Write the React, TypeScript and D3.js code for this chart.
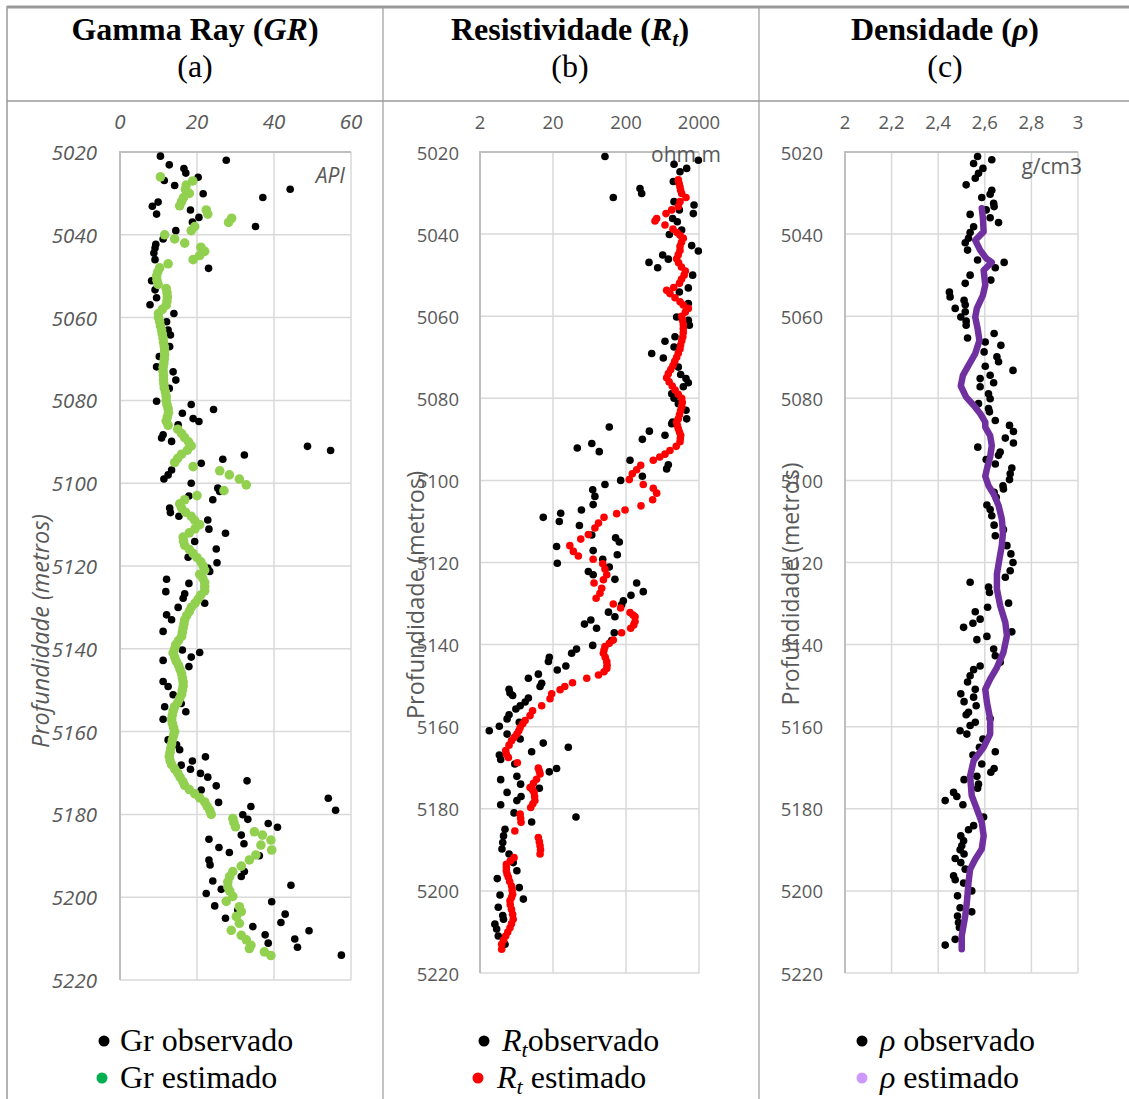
import React from 'react';
import * as d3 from 'd3';

// ---------- tick values ----------
const depthTicks = [5020, 5040, 5060, 5080, 5100, 5120, 5140, 5160, 5180, 5200, 5220];
const grTicks = [0, 20, 40, 60];
const rtTicks = [2, 20, 200, 2000];
const rhoTicks = [2, 2.2, 2.4, 2.6, 2.8, 3];

// ---------- Gamma Ray (API) [depth, value] ----------
const grObs: [number, number][] = [
  [5021.0,10.5],[5022.0,27.6],[5023.1,12.8],[5024.0,16.6],[5025.1,17.1],[5026.1,20.3],[5026.9,11.5],[5028.1,14.2],[5029.0,44.2],[5030.1,21.6],
  [5031.0,37.1],[5032.1,9.9],[5033.1,8.4],[5034.0,18.3],[5035.0,9.5],[5035.8,20.5],[5036.9,18.8],[5038.0,35.2],[5039.0,14.5],[5041.0,11.2],
  [5042.3,9.3],[5043.2,9.1],[5044.4,8.8],[5046.0,9.1],[5048.1,23.0],[5051.1,8.2],[5053.3,9.1],[5055.2,9.5],[5056.9,7.8],[5059.0,14.0],
  [5061.0,12.1],[5063.0,12.5],[5064.2,13.1],[5067.0,12.9],[5069.4,10.2],[5071.9,9.5],[5073.1,13.8],[5075.1,14.5],[5077.1,12.8],[5080.2,9.5],
  [5081.0,18.5],[5082.2,24.3],[5083.1,16.2],[5084.4,19.0],[5085.1,20.5],[5085.9,15.1],[5088.3,11.2],[5089.1,10.8],[5089.9,13.4],[5091.1,48.7],
  [5092.1,54.7],[5093.2,32.3],[5094.2,26.7],[5095.2,21.1],[5096.8,13.4],[5098.0,12.5],[5099.0,11.4],[5100.0,18.5],[5101.2,25.4],[5102.0,25.9],
  [5103.1,17.9],[5104.0,24.1],[5106.0,12.9],[5107.1,13.1],[5108.0,15.3],[5108.9,22.8],[5111.1,23.1],[5112.1,27.4],[5114.1,19.4],[5115.9,25.0],
  [5117.9,17.7],[5119.2,25.2],[5120.5,22.8],[5121.3,23.3],[5123.2,12.1],[5124.2,17.9],[5126.2,11.9],[5126.7,16.8],[5127.8,16.4],[5129.0,22.0],
  [5130.0,15.1],[5131.8,12.1],[5133.0,13.4],[5135.8,11.2],[5140.3,16.2],[5140.9,20.7],[5142.0,18.5],[5142.8,11.2],[5144.3,17.9],[5147.9,11.2],
  [5149.1,12.5],[5151.1,13.8],[5153.2,15.9],[5154.0,11.6],[5155.2,17.1],[5157.0,11.2],[5162.0,12.5],[5163.2,14.7],[5164.4,15.5],[5166.1,22.2],
  [5167.1,18.8],[5168.1,15.9],[5169.1,18.3],[5170.1,20.9],[5171.0,22.8],[5171.9,33.0],[5173.1,25.0],[5174.1,21.1],[5176.1,54.1],[5177.1,25.6],
  [5178.1,34.0],[5179.0,56.0],[5180.1,31.9],[5181.2,33.2],[5182.2,38.5],[5183.1,40.9],[5185.0,31.5],[5186.0,23.1],[5187.1,32.2],[5188.0,25.7],
  [5189.2,28.4],[5190.0,36.2],[5191.0,23.1],[5192.2,23.4],[5193.8,32.3],[5195.0,31.5],[5196.1,24.1],[5197.1,44.4],[5198.1,26.3],[5199.1,22.4],
  [5201.1,39.4],[5202.1,24.6],[5203.1,30.6],[5204.1,42.9],[5205.1,27.4],[5206.1,41.8],[5207.1,34.5],[5208.1,49.1],[5209.1,37.7],[5210.1,45.4],
  [5211.1,38.5],[5212.1,46.1],[5214.0,57.5],
];

const grEst: [number, number][] = [
  [5026,10.5],[5027,18.9],[5028,17.2],[5029,17.0],[5030,18.0],[5031,16.5],[5032,16.0],[5033,15.5],[5034,22.4],[5035,22.8],
  [5036,29.0],[5037,28.2],[5038,19.4],[5039,18.5],[5040,11.6],[5041,14.2],[5042,16.8],[5043,21.0],[5044,22.0],[5045,20.7],
  [5046,19.0],[5047,12.5],[5048,10.3],[5049,9.8],[5050,9.5],[5051,9.6],[5052,9.9],[5053,12.0],[5054,12.2],[5055,12.3],
  [5056,12.2],[5057,12.0],[5058,11.0],[5059,10.0],[5060,10.0],[5061,10.3],[5062,10.5],[5063,10.8],[5064,11.0],[5065,11.2],
  [5066,11.3],[5067,11.5],[5068,11.6],[5069,11.6],[5070,11.5],[5071,11.4],[5072,11.2],[5073,11.2],[5074,11.3],[5075,11.3],
  [5076,11.4],[5077,11.5],[5078,11.8],[5079,12.0],[5080,12.0],[5081,12.2],[5082,12.5],[5083,12.6],[5084,12.3],[5085,12.0],
  [5086,12.5],[5087,15.0],[5088,16.0],[5089,16.8],[5090,17.8],[5091,18.5],[5092,17.5],[5093,16.0],[5094,15.0],[5095,14.2],
  [5096,19.0],[5097,25.9],[5098,28.4],[5099,31.0],[5100.4,32.8],[5101.8,27.0],[5103,20.0],[5104,16.8],[5105,15.5],[5106,16.0],
  [5107,17.0],[5108,18.5],[5109,19.4],[5110,20.7],[5111,19.5],[5112,18.0],[5113,16.4],[5114,16.5],[5115,16.8],[5116,18.0],
  [5117,19.0],[5118,20.0],[5119,21.0],[5120,21.6],[5121,22.0],[5122,20.7],[5123,21.5],[5124,22.0],[5125,22.0],[5126,22.0],
  [5127,21.0],[5128,20.3],[5129,19.5],[5130,18.5],[5131,18.0],[5132,17.3],[5133,16.8],[5134,16.6],[5135,16.4],[5136,16.2],
  [5137,16.0],[5138,15.2],[5139,14.5],[5140,14.2],[5141,13.8],[5142,14.2],[5143,14.6],[5144,15.2],[5145,15.6],[5146,16.0],
  [5147,16.2],[5148,16.4],[5149,16.4],[5150,16.2],[5151,16.0],[5152,15.5],[5153,15.0],[5154,14.2],[5155,13.8],[5156,13.6],
  [5157,13.4],[5158,13.6],[5159,13.9],[5160,14.2],[5161,13.9],[5162,13.6],[5163,13.4],[5164,13.2],[5165,13.0],[5166,12.8],
  [5167,13.0],[5168,13.4],[5169,14.2],[5170,15.0],[5171,15.6],[5172,16.3],[5173,16.8],[5174,18.0],[5175,19.4],[5176,20.7],
  [5177,22.0],[5178,22.6],[5179,23.3],[5180,23.7],[5181,29.3],[5182,29.6],[5183,30.0],[5184.2,34.9],[5185,37.0],[5186.2,39.2],
  [5187.4,36.6],[5188.6,39.4],[5189.8,35.3],[5191,33.6],[5192.5,31.5],[5193.8,29.3],[5195,28.5],[5196.3,28.0],[5197.5,28.0],[5198.5,28.5],
  [5199.8,29.3],[5201,27.6],[5202.3,31.0],[5203.5,31.5],[5204.7,30.2],[5206.3,31.0],[5208,28.9],[5209.2,31.5],[5210.3,32.8],[5211.6,34.0],
  [5212.4,33.6],[5213.2,37.5],[5214.1,39.2],
];

// ---------- Resistividade (ohm.m) [depth, value] ----------
const rtObs: [number, number][] = [
  [5021.1,103],[5022.0,1960],[5023.0,910],[5024.0,1356],[5024.8,1098],[5027.2,890],[5028.9,311],[5030.1,328],[5031.1,134],[5032.1,910],
  [5032.9,1710],[5034.1,1076],[5035.0,1672],[5036.2,871],[5037.0,1010],[5039.0,1158],[5040.1,785],[5042.8,1588],[5044.1,1958],[5045.1,636],
  [5046.1,760],[5046.9,413],[5048.2,543],[5050.0,1637],[5053.1,1429],[5054.1,1076],[5056.9,1429],[5060.2,988],[5061.0,1429],[5062.2,1476],
  [5065.0,938],[5066.1,684],[5067.5,910],[5069.1,450],[5070.2,649],[5072.4,1042],[5074.2,1122],[5075.2,1327],[5076.2,1429],[5077.2,1219],
  [5078.9,845],[5080.0,910],[5081.3,1042],[5082.9,1327],[5085.0,1356],[5085.8,871],[5086.2,845],[5087.0,118],[5088.0,418],[5089.0,684],
  [5090.0,335],[5091.0,68],[5092.1,43],[5093.0,86],[5095.1,227],[5096.2,760],[5097.2,721],[5099.0,335],[5100.0,169],[5101.0,103],
  [5102.3,70],[5103.9,75],[5105.9,71],[5107.2,49],[5108.0,25.5],[5109.0,14.7],[5110.0,24.4],[5111.0,46],[5113.3,68],[5114.0,144],
  [5115.0,162],[5116.1,22.4],[5117.1,71],[5118.1,152],[5119.2,96],[5120.2,22.9],[5121.1,118],[5122.2,61],[5123.0,71],[5124.1,141],
  [5125.0,280],[5127.1,345],[5128.0,234],[5129.3,184],[5130.3,174],[5132.1,115],[5133.2,141],[5134.0,66],[5135.0,54],[5136.0,79],
  [5137.1,138],[5139.0,127],[5140.2,70],[5141.1,42],[5142.1,36],[5143.1,17.8],[5144.1,17.3],[5145.2,30],[5146.2,22.9],[5147.2,12.6],
  [5148.2,9.2],[5149.4,14],[5150.2,13.3],[5150.9,5.0],[5151.8,5.15],[5152.4,5.6],[5153.0,9.2],[5154.0,8.3],[5154.9,7.1],[5155.7,6.2],
  [5157.1,5.0],[5158.1,4.7],[5158.9,6.9],[5159.9,3.68],[5161.0,2.68],[5161.8,4.7],[5163.0,7.1],[5164.0,14.7],[5165.0,32.4],[5166.1,10.2],
  [5166.9,3.68],[5168.0,3.84],[5169.1,6.0],[5170.2,22.4],[5171.0,17.8],[5172.1,6.4],[5172.9,3.84],[5174.0,7.2],[5175.0,13],[5176.0,4.7],
  [5177.0,7.3],[5178.0,6.4],[5179.0,3.84],[5181.0,5.85],[5182.0,41.3],[5183.2,10.2],[5185.0,4.4],[5186.6,4.2],[5188.2,4.1],[5189.8,4.0],
  [5191.0,5.0],[5193.1,5.7],[5195.1,6.4],[5197.0,3.45],[5199.2,6.9],[5201.0,3.76],[5202.0,7.85],[5204.0,3.56],[5206.0,4.1],[5206.9,4.2],
  [5208.1,3.2],[5209.3,3.38],[5211.0,3.56],[5213.0,4.4],
];

const rtEst: [number, number][] = [
  [5026.8,1042],[5027.7,1070],[5028.5,1098],[5029.3,1120],[5030.1,1158],[5031.1,1327],[5032.1,1098],[5033.3,1042],[5034.1,845],[5035.0,706],
  [5036.2,526],[5036.8,499],[5037.8,684],[5038.8,880],[5039.6,1000],[5040.3,1100],[5041.0,1219],[5042.0,1150],[5043.0,1098],[5044.0,1098],
  [5045.0,1040],[5046.0,988],[5047.0,1050],[5048.0,1150],[5049.0,1300],[5050.0,1250],[5051.0,1150],[5052.0,1080],[5053.0,900],[5053.7,720],
  [5054.5,800],[5055.5,938],[5056.5,1100],[5057.3,1219],[5058.1,1429],[5059.0,1300],[5060.0,1158],[5061.0,1190],[5062.0,1219],[5063.0,1219],
  [5064.0,1219],[5065.0,1200],[5066.0,1160],[5067.0,1120],[5068.0,1098],[5069.0,1040],[5070.0,988],[5071.0,930],[5072.0,880],[5073.0,820],
  [5074.0,760],[5075.0,720],[5076.0,780],[5077.0,860],[5078.0,940],[5079.0,1040],[5080.0,1158],[5081.0,1180],[5082.0,1158],[5083.0,1120],
  [5084.0,1080],[5085.0,1042],[5085.8,988],[5086.6,1010],[5087.4,1042],[5088.2,1080],[5089.0,1122],[5089.8,1110],[5090.6,1098],[5091.7,975],
  [5092.7,800],[5093.6,684],[5094.3,580],[5095.1,473],[5096.3,318],[5097.4,280],[5098.4,244],[5099.8,222],[5101.0,345],[5101.9,473],
  [5103.1,526],[5104.7,464],[5106.2,321],[5107.2,194],[5108.1,149],[5109.0,100],[5110.4,84],[5111.6,75],[5113.2,61],[5114.3,48],
  [5115.9,34],[5117.3,38],[5118.4,44.5],[5119.2,71],[5120.3,96],[5121.6,103],[5123.0,109],[5124.2,98],[5125.0,73],[5126.3,93],
  [5127.5,88],[5128.7,78],[5130.1,134],[5131.1,169],[5132.2,227],[5132.8,250],[5133.2,266],[5134.4,266],[5135.2,255],[5136.0,232],
  [5137.1,174],[5138.9,134],[5139.7,118],[5140.5,103],[5141.3,100],[5142.1,98],[5143.1,104],[5144.1,109],[5145.0,110],[5145.8,109],
  [5146.6,100],[5147.4,84],[5148.2,58],[5149.3,37],[5150.2,29],[5151.0,25],[5152.0,19.2],[5153.2,18.2],[5154.9,14],[5156.1,10.5],
  [5157.3,9.7],[5158.5,8.3],[5159.3,7.7],[5160.2,7.1],[5161.0,6.8],[5161.8,6.4],[5162.6,5.9],[5163.4,5.4],[5164.5,5.0],[5165.8,4.5],
  [5166.7,4.6],[5167.5,4.9],[5168.8,6.5],[5170.1,12.6],[5170.8,13.0],[5171.5,13.3],[5172.8,11.9],[5173.8,10.8],[5174.8,9.7],[5175.4,10.5],
  [5176.0,11.0],[5177.0,11.2],[5178.0,11.3],[5178.8,10.6],[5179.7,9.9],[5181.3,7.1],[5182.3,7.2],[5183.3,7.3],[5185.4,6.0],[5187.0,12.6],
  [5188.0,13.0],[5189.0,13.3],[5190.0,13.5],[5191.0,13.3],[5191.9,5.85],[5192.7,5.2],[5193.5,4.6],[5194.3,4.6],[5195.1,4.6],[5195.9,4.7],
  [5196.7,4.9],[5197.7,5.1],[5198.8,5.4],[5199.8,5.5],[5200.8,5.6],[5201.6,5.4],[5202.4,5.15],[5203.4,5.2],[5204.5,5.4],[5205.7,5.6],
  [5206.9,5.7],[5208.0,5.4],[5209.0,5.15],[5210.0,4.8],[5211.0,4.5],[5212.0,4.2],[5213.0,3.96],[5214.2,3.96],
];

// ---------- Densidade (g/cm3) [depth, value] ----------
const rhoObs: [number, number][] = [
  [5021.1,2.569],[5021.9,2.630],[5022.8,2.552],[5024.0,2.592],[5025.2,2.573],[5026.4,2.559],[5028.0,2.520],[5029.3,2.630],[5030.3,2.623],[5031.1,2.587],
  [5032.5,2.638],[5033.3,2.640],[5034.1,2.606],[5035.2,2.537],[5036.0,2.623],[5037.2,2.659],[5038.2,2.552],[5039.6,2.537],[5041.0,2.530],[5042.1,2.516],
  [5043.9,2.526],[5046.3,2.569],[5046.9,2.683],[5048.2,2.645],[5050.0,2.537],[5051.2,2.626],[5052.0,2.516],[5054.1,2.448],[5055.3,2.451],[5056.1,2.511],
  [5057.2,2.516],[5058.1,2.473],[5058.9,2.516],[5060.2,2.497],[5061.2,2.520],[5062.2,2.520],[5064.2,2.640],[5065.3,2.526],[5066.3,2.602],[5067.1,2.669],
  [5068.7,2.597],[5069.9,2.652],[5071.1,2.659],[5072.2,2.602],[5073.2,2.721],[5074.4,2.623],[5075.2,2.580],[5076.2,2.638],[5077.2,2.580],[5078.9,2.616],
  [5080.1,2.623],[5081.3,2.573],[5082.5,2.616],[5083.3,2.620],[5085.4,2.645],[5086.6,2.706],[5088.1,2.723],[5089.7,2.688],[5090.9,2.723],[5091.9,2.570],
  [5093.1,2.666],[5093.9,2.659],[5094.9,2.606],[5096.0,2.645],[5097.0,2.716],[5098.4,2.709],[5099.8,2.706],[5101.3,2.678],[5102.1,2.680],[5102.9,2.640],
  [5104.1,2.649],[5106.0,2.609],[5107.1,2.623],[5108.6,2.630],[5110.9,2.640],[5112.0,2.680],[5113.5,2.645],[5115.9,2.695],[5117.9,2.712],[5120.0,2.721],
  [5122.0,2.709],[5123.6,2.688],[5124.8,2.537],[5126.0,2.616],[5127.3,2.620],[5129.9,2.702],[5130.9,2.612],[5132.0,2.559],[5133.8,2.580],[5134.8,2.549],
  [5135.8,2.509],[5136.9,2.716],[5138.0,2.609],[5138.8,2.566],[5141.1,2.638],[5142.7,2.645],[5144.3,2.666],[5145.2,2.580],[5146.1,2.552],[5147.6,2.537],
  [5149.1,2.526],[5150.9,2.559],[5152.0,2.497],[5152.8,2.552],[5153.9,2.511],[5154.9,2.563],[5156.5,2.530],[5157.1,2.520],[5158.0,2.623],[5158.9,2.559],
  [5159.7,2.537],[5161.0,2.494],[5161.8,2.523],[5163.0,2.592],[5165.0,2.577],[5166.1,2.645],[5166.9,2.549],[5169.1,2.587],[5170.2,2.640],[5171.1,2.626],
  [5172.1,2.566],[5172.9,2.511],[5174.0,2.573],[5175.0,2.569],[5176.0,2.466],[5177.0,2.480],[5178.0,2.430],[5179.0,2.506],[5182.0,2.595],[5184.1,2.552],
  [5185.1,2.530],[5186.6,2.497],[5187.8,2.509],[5189.0,2.501],[5190.0,2.494],[5191.0,2.511],[5192.1,2.473],[5193.1,2.497],[5194.7,2.516],[5196.3,2.466],
  [5197.3,2.473],[5198.1,2.509],[5200.0,2.544],[5201.2,2.483],[5204.1,2.494],[5205.1,2.544],[5206.1,2.483],[5207.7,2.487],[5208.9,2.491],[5211.8,2.473],
  [5213.2,2.430],
];

const rhoEst: [number, number][] = [
  [5033.7,2.587],[5036.2,2.592],[5039.4,2.595],[5041.5,2.559],[5043.9,2.580],[5045.9,2.606],[5046.9,2.630],[5048.8,2.595],[5052.4,2.602],[5054.9,2.592],
  [5058.1,2.566],[5060.2,2.559],[5063.0,2.569],[5065.9,2.577],[5069.1,2.559],[5072.0,2.530],[5074.4,2.506],[5077.0,2.497],[5079.7,2.520],[5081.7,2.552],
  [5083.7,2.580],[5085.8,2.602],[5087.0,2.602],[5089.1,2.623],[5091.5,2.630],[5094.3,2.623],[5097.2,2.609],[5099.0,2.602],[5101.3,2.616],[5103.3,2.638],
  [5106.1,2.659],[5109.4,2.673],[5112.6,2.678],[5115.9,2.673],[5119.1,2.663],[5122.8,2.652],[5126.5,2.652],[5130.5,2.666],[5134.6,2.688],[5137.8,2.695],
  [5141.9,2.680],[5145.6,2.652],[5148.4,2.623],[5150.9,2.602],[5154.0,2.609],[5158.1,2.623],[5161.8,2.623],[5165.0,2.595],[5168.3,2.552],[5172.0,2.537],
  [5176.8,2.544],[5180.1,2.566],[5183.3,2.587],[5186.6,2.595],[5189.8,2.587],[5192.3,2.559],[5194.7,2.537],[5198.0,2.530],[5202.8,2.523],[5206.1,2.516],
  [5211.0,2.501],[5214.2,2.501],
];

const GRID = '#d9d9d9';
const AXIS = '#bfbfbf';
const LABEL = '#595959';
const BORDER = '#9a9a9a';
const SANS = '"Open Sans", "Liberation Sans", sans-serif';
const SERIF = '"Liberation Serif", "Times New Roman", serif';

type Panel = {
  x0: number; x1: number; yBottom: number;
  xScale: any; xTicks: number[]; fmt: (v: number) => string;
  italic: boolean; tickSize: number; yLabelRight: number;
  obs: [number, number][]; est: [number, number][];
  estColor: string; estR: number; estLine: boolean;
  unit: string; unitX: number; unitY: number; unitSize: number;
  titleX: number; titleY: number; titleSize: number;
};

function PanelView({ p }: { p: Panel }) {
  const y = d3.scaleLinear().domain([5020, 5220]).range([152, p.yBottom]);
  const x = p.xScale;
  const fstyle = p.italic ? 'italic' : 'normal';
  const line = d3.line<[number, number]>().x(d => x(d[1])).y(d => y(d[0])).curve(d3.curveLinear);
  return (
    <g>
      {p.xTicks.map((t, i) => (
        <line key={'vx' + i} x1={x(t)} x2={x(t)} y1={152} y2={p.yBottom} stroke={GRID} strokeWidth={1.5} />
      ))}
      {depthTicks.map((t, i) => (
        <line key={'hy' + i} x1={p.x0} x2={p.x1} y1={y(t)} y2={y(t)} stroke={GRID} strokeWidth={1.5} />
      ))}
      <line x1={p.x0} x2={p.x1} y1={152} y2={152} stroke={AXIS} strokeWidth={2} />
      <line x1={p.x0} x2={p.x0} y1={151} y2={p.yBottom} stroke={AXIS} strokeWidth={2} />
      {p.xTicks.map((t, i) => (
        <text key={'xl' + i} x={x(t)} y={121} textAnchor="middle" dominantBaseline="central"
          fontFamily={SANS} fontSize={p.tickSize} fontStyle={fstyle} fill={LABEL}>{p.fmt(t)}</text>
      ))}
      {depthTicks.map((t, i) => (
        <text key={'yl' + i} x={p.yLabelRight} y={y(t)} textAnchor="end" dominantBaseline="central"
          fontFamily={SANS} fontSize={p.tickSize} fontStyle={fstyle} fill={LABEL}>{t}</text>
      ))}
      <text x={p.unitX} y={p.unitY} textAnchor="end" dominantBaseline="central" fontFamily={SANS}
        fontSize={p.unitSize} fontStyle={fstyle} fill={LABEL}>{p.unit}</text>
      <text transform={`translate(${p.titleX},${p.titleY}) rotate(-90)`} textAnchor="middle" dominantBaseline="central"
        fontFamily={SANS} fontSize={p.titleSize} fontStyle={fstyle} fill={LABEL}>Profundidade (metros)</text>
      {p.obs.map((d, i) => (
        <circle key={'o' + i} cx={x(d[1])} cy={y(d[0])} r={3.8} fill="#000" />
      ))}
      {p.estLine ? (
        <path d={line(p.est) || ''} fill="none" stroke={p.estColor} strokeWidth={6.5} strokeLinejoin="round" strokeLinecap="round" />
      ) : (
        p.est.map((d, i) => (
          <circle key={'e' + i} cx={x(d[1])} cy={y(d[0])} r={p.estR} fill={p.estColor} />
        ))
      )}
    </g>
  );
}

const commaFmt = (v: number) => d3.format('~g')(v).replace('.', ',');

export default function App() {
  const panels: Panel[] = [
    {
      x0: 120, x1: 351, yBottom: 980,
      xScale: d3.scaleLinear().domain([0, 60]).range([120, 351]), xTicks: grTicks, fmt: v => String(v),
      italic: true, tickSize: 20.5, yLabelRight: 97,
      obs: grObs, est: grEst, estColor: '#92D050', estR: 4.8, estLine: false,
      unit: 'API', unitX: 345, unitY: 175, unitSize: 21,
      titleX: 40, titleY: 631, titleSize: 23.5,
    },
    {
      x0: 480, x1: 699, yBottom: 973,
      xScale: d3.scaleLog().domain([2, 2000]).range([480, 699]), xTicks: rtTicks, fmt: v => String(v),
      italic: false, tickSize: 18.5, yLabelRight: 459,
      obs: rtObs, est: rtEst, estColor: '#FF0000', estR: 3.8, estLine: false,
      unit: 'ohm.m', unitX: 721, unitY: 154, unitSize: 21,
      titleX: 415, titleY: 595, titleSize: 23.5,
    },
    {
      x0: 845, x1: 1078, yBottom: 973,
      xScale: d3.scaleLinear().domain([2, 3]).range([845, 1078]), xTicks: rhoTicks, fmt: commaFmt,
      italic: false, tickSize: 18.5, yLabelRight: 823,
      obs: rhoObs, est: rhoEst, estColor: '#7030A0', estR: 3.5, estLine: true,
      unit: 'g/cm3', unitX: 1082, unitY: 166, unitSize: 21,
      titleX: 790, titleY: 584, titleSize: 23,
    },
  ];

  const hdrY1 = 40, hdrY2 = 77, tSize = 32;
  const legSize = 32;

  return (
    <svg width={1129} height={1099} viewBox="0 0 1129 1099"
      style={{ position: 'absolute', left: 0, top: 0, background: '#fff' }}>
      <rect x={0} y={0} width={1129} height={1099} fill="#fff" />
      <line x1={7} x2={1129} y1={7} y2={7} stroke={BORDER} strokeWidth={3} />
      <line x1={7} x2={1129} y1={101} y2={101} stroke={BORDER} strokeWidth={1.5} />
      <line x1={7} x2={7} y1={6} y2={1099} stroke={BORDER} strokeWidth={1.5} />
      <line x1={383} x2={383} y1={6} y2={1099} stroke={BORDER} strokeWidth={1.2} />
      <line x1={759} x2={759} y1={6} y2={1099} stroke={BORDER} strokeWidth={1.2} />

      <g fontFamily={SERIF} fontSize={tSize} fill="#000" textAnchor="middle">
        <text x={195} y={hdrY1} fontWeight="bold">Gamma Ray (<tspan fontStyle="italic">GR</tspan>)</text>
        <text x={195} y={hdrY2}>(a)</text>
        <text x={570} y={hdrY1} fontWeight="bold">Resistividade (<tspan fontStyle="italic">R</tspan><tspan fontStyle="italic" fontSize={22} dy={6}>t</tspan><tspan dy={-6}>)</tspan></text>
        <text x={570} y={hdrY2}>(b)</text>
        <text x={945} y={hdrY1} fontWeight="bold">Densidade (<tspan fontStyle="italic">ρ</tspan>)</text>
        <text x={945} y={hdrY2}>(c)</text>
      </g>

      {panels.map((p, i) => <PanelView key={i} p={p} />)}

      <g fontFamily={SERIF} fontSize={legSize} fill="#000">
        <circle cx={104} cy={1041} r={5.5} fill="#000" />
        <text x={120} y={1051}>Gr observado</text>
        <circle cx={102} cy={1078} r={5.5} fill="#00B050" />
        <text x={120} y={1088}>Gr estimado</text>

        <circle cx={484} cy={1041} r={5.5} fill="#000" />
        <text x={502} y={1051}><tspan fontStyle="italic">R</tspan><tspan fontStyle="italic" fontSize={22} dy={6}>t</tspan><tspan dy={-6}>observado</tspan></text>
        <circle cx={478} cy={1078} r={5.5} fill="#FF0000" />
        <text x={497} y={1088}><tspan fontStyle="italic">R</tspan><tspan fontStyle="italic" fontSize={22} dy={6}>t</tspan><tspan dy={-6}> estimado</tspan></text>

        <circle cx={862} cy={1041} r={5.5} fill="#000" />
        <text x={880} y={1051}><tspan fontStyle="italic">ρ</tspan> observado</text>
        <circle cx={862} cy={1078} r={5.5} fill="#CC99FF" />
        <text x={880} y={1088}><tspan fontStyle="italic">ρ</tspan> estimado</text>
      </g>
    </svg>
  );
}
